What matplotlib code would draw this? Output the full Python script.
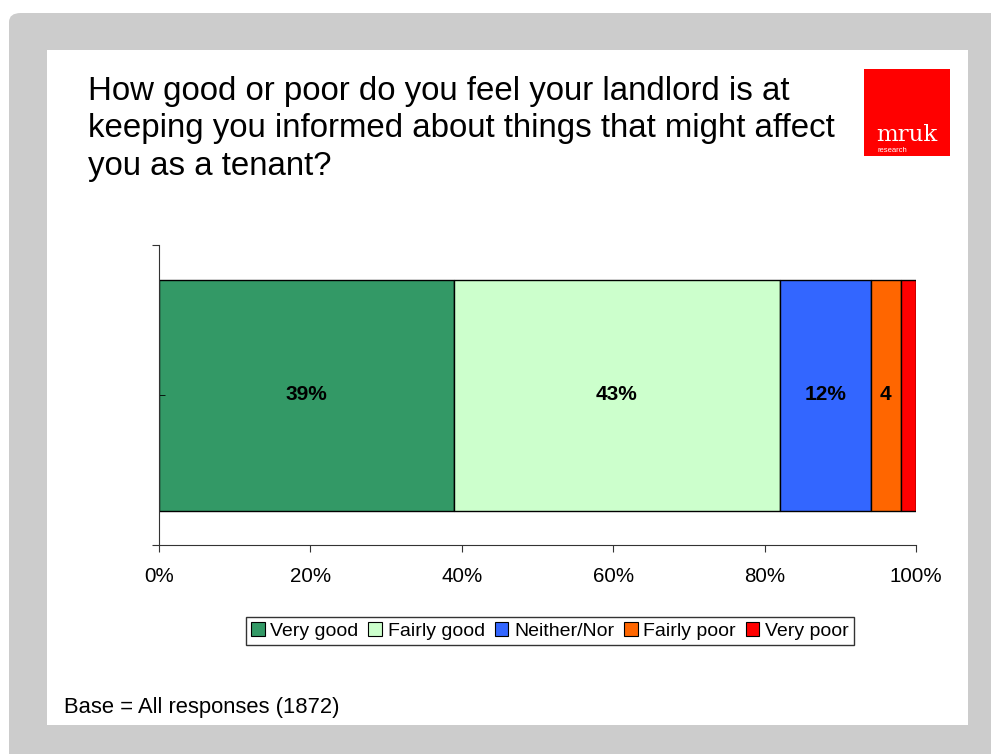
import numpy as np
import matplotlib
matplotlib.use("Agg")
import matplotlib.pyplot as plt
from matplotlib.patches import FancyBboxPatch, Rectangle

plt.rcParams['font.family'] = ['Liberation Sans', 'DejaVu Sans']

categories = ["Very good", "Fairly good", "Neither/Nor", "Fairly poor", "Very poor"]
values = [39, 43, 12, 4, 2]
labels = ["39%", "43%", "12%", "4", ""]
colors = ["#339966", "#CCFFCC", "#3366FF", "#FF6600", "#FF0000"]
xticks = [0, 20, 40, 60, 80, 100]
xticklabels = ["0%", "20%", "40%", "60%", "80%", "100%"]

title = ("How good or poor do you feel your landlord is at\n"
         "keeping you informed about things that might affect\n"
         "you as a tenant?")
base_note = "Base = All responses (1872)"

W, H = 991, 754
fig = plt.figure(figsize=(W / 100, H / 100), dpi=100)
fig.patch.set_facecolor("white")


def fx(px):
    return px / W


def fy(py):
    return 1 - py / H


# grey slide frame with white panel
frame = FancyBboxPatch((fx(9), -0.2), 1.2, fy(13) + 0.2, boxstyle="round,pad=0,rounding_size=0.012",
                       transform=fig.transFigure, facecolor="#cccccc", edgecolor="none", zorder=0)
fig.patches.append(frame)
panel = Rectangle((fx(47), fy(725)), fx(968) - fx(47), fy(50) - fy(725),
                  transform=fig.transFigure, facecolor="white", edgecolor="none", zorder=1)
fig.patches.append(panel)

# logo
logo = Rectangle((fx(864), fy(156)), fx(950) - fx(864), fy(69) - fy(156),
                 transform=fig.transFigure, facecolor="#FF0000", edgecolor="none", zorder=2)
fig.patches.append(logo)
fig.text(fx(876), fy(141), "mruk", color="white", fontsize=16.5, family="DejaVu Serif",
         ha="left", va="baseline", zorder=3)
fig.text(fx(877), fy(152), "research", color="white", fontsize=5.5, ha="left", va="baseline", zorder=3)

fig.text(fx(88), fy(76), title, fontsize=23.8, ha="left", va="top", linespacing=1.27, zorder=3)
fig.text(fx(64), fy(713), base_note, fontsize=15.8, ha="left", va="baseline", zorder=3)

ax = fig.add_axes([fx(159), fy(545), fx(916) - fx(159), fy(245) - fy(545)])
ax.set_zorder(3)
ax.patch.set_alpha(0)

left = 0
for val, lab, col in zip(values, labels, colors):
    ax.barh(0, val, left=left, height=0.77, color=col, edgecolor="black", linewidth=1)
    if lab:
        ax.text(left + val / 2, 0, lab, ha="center", va="center", fontsize=15, fontweight="bold")
    left += val

ax.set_xlim(0, 100)
ax.set_ylim(-0.5, 0.5)
ax.set_xticks(xticks)
ax.set_xticklabels(xticklabels, fontsize=14.8)
ax.set_yticks([-0.5, 0.5])
ax.set_yticklabels([])
ax.set_yticks([0], minor=True)
ax.tick_params(axis="y", which="major", direction="out", length=5, color="#333333")
ax.tick_params(axis="y", which="minor", direction="in", length=4, color="black")
ax.tick_params(axis="x", direction="out", length=5, pad=11, color="#333333")
for s in ["top", "right"]:
    ax.spines[s].set_visible(False)
for s in ["left", "bottom"]:
    ax.spines[s].set_color("#333333")

handles = [Rectangle((0, 0), 1, 1, facecolor=c, edgecolor="black", linewidth=0.8) for c in colors]
fig.legend(handles, categories, loc="center", bbox_to_anchor=(fx(550), fy(631)), ncol=5,
           fontsize=14, frameon=True, fancybox=False, edgecolor="black", handlelength=0.7,
           handleheight=0.7, handletextpad=0.3, columnspacing=0.5, borderpad=0.25)

fig.savefig("out.png", dpi=100)
